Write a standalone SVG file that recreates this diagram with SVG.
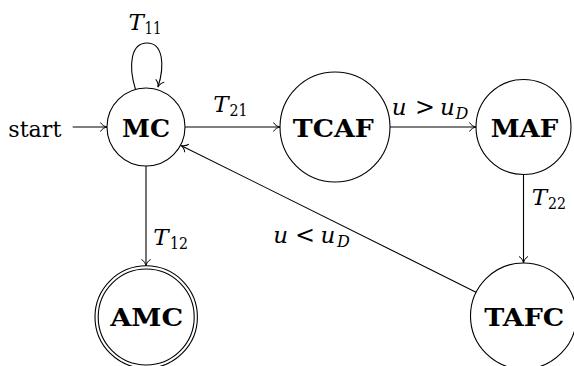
<svg xmlns="http://www.w3.org/2000/svg" width="574" height="366" viewBox="0 0 574 366">
<style>
.node{fill:#fff;stroke:#000;stroke-width:1.1}
.lbl{font-family:"DejaVu Serif","Liberation Serif",serif;font-weight:bold;font-size:25px;text-anchor:middle;fill:#000}
.edge{fill:none;stroke:#000;stroke-width:1.1;marker-end:url(#arr)}
.mi{font-family:"DejaVu Serif","Liberation Serif",serif;font-style:italic;font-size:23px;fill:#000}
.sub{font-family:"DejaVu Serif","Liberation Serif",serif;font-size:16px;fill:#000}
.subi{font-family:"DejaVu Serif","Liberation Serif",serif;font-style:italic;font-size:16px;fill:#000}
.rel{font-family:"DejaVu Serif","Liberation Serif",serif;font-size:24px;fill:#000}
.rm{font-family:"DejaVu Serif","Liberation Serif",serif;font-size:23px;fill:#000}
</style>
<defs>
<marker id="arr" markerUnits="userSpaceOnUse" markerWidth="12" markerHeight="12" viewBox="-8 -6 10 12" refX="0" refY="0" orient="auto">
<path d="M-6.5,-4.5 C-5,-1.8 -2.5,-0.5 0,0 C-2.5,0.5 -5,1.8 -6.5,4.5" fill="none" stroke="#000" stroke-width="1"/>
</marker>
</defs>
<rect width="574" height="366" fill="#fff"/>
<g id="connectors">
<line class="edge" x1="72.7" y1="127" x2="107" y2="127"/>
<path class="edge" d="M135.5,89.5 C128,65 131,43 147,43 C163,43 165,65 158,87"/>
<line class="edge" x1="185" y1="127" x2="280" y2="127"/>
<line class="edge" x1="390" y1="127" x2="476" y2="127"/>
<line class="edge" x1="146" y1="166" x2="146" y2="266"/>
<line class="edge" x1="523.5" y1="174.5" x2="523.5" y2="263"/>
<line class="edge" x1="476.5" y1="292.4" x2="180.9" y2="145.4"/>
<text class="rm" x="8.3" y="136.7" textLength="53" lengthAdjust="spacingAndGlyphs">start</text>
<text class="mi" x="128.5" y="30">T</text><text class="sub" x="144.5" y="33.5" textLength="17" lengthAdjust="spacingAndGlyphs">11</text>
<text class="mi" x="213.3" y="111.7">T</text><text class="sub" x="229.5" y="115.5" textLength="18" lengthAdjust="spacingAndGlyphs">21</text>
<text class="mi" x="153.3" y="245">T</text><text class="sub" x="170" y="248.5" textLength="18" lengthAdjust="spacingAndGlyphs">12</text>
<text class="mi" x="531.7" y="205">T</text><text class="sub" x="548" y="208.5" textLength="18" lengthAdjust="spacingAndGlyphs">22</text>
<text class="mi" x="391.7" y="115">u</text><text class="rel" x="415" y="115" textLength="20" lengthAdjust="spacingAndGlyphs">&gt;</text><text class="mi" x="440" y="115">u</text><text class="subi" x="455.5" y="118.5">D</text>
<text class="mi" x="273.3" y="243.3">u</text><text class="rel" x="295" y="243.3" textLength="20" lengthAdjust="spacingAndGlyphs">&lt;</text><text class="mi" x="320.5" y="243.3">u</text><text class="subi" x="337" y="247">D</text>
</g>
<g id="MC"><circle class="node" cx="146" cy="127" r="39"/><text class="lbl" x="146" y="136.5" textLength="48" lengthAdjust="spacingAndGlyphs">MC</text></g>
<g id="TCAF"><circle class="node" cx="335" cy="127" r="55"/><text class="lbl" x="333.3" y="136.5" textLength="81" lengthAdjust="spacingAndGlyphs">TCAF</text></g>
<g id="MAF"><circle class="node" cx="523.5" cy="127" r="47.5"/><text class="lbl" x="524.5" y="136.5" textLength="67.6" lengthAdjust="spacingAndGlyphs">MAF</text></g>
<g id="AMC"><circle class="node" cx="146.2" cy="317" r="51.2"/><circle class="node" cx="146.2" cy="317" r="48"/><text class="lbl" x="146.7" y="326" textLength="73" lengthAdjust="spacingAndGlyphs">AMC</text></g>
<g id="TAFC"><circle class="node" cx="523.5" cy="316" r="53"/><text class="lbl" x="524.3" y="326" textLength="80" lengthAdjust="spacingAndGlyphs">TAFC</text></g>
</svg>
